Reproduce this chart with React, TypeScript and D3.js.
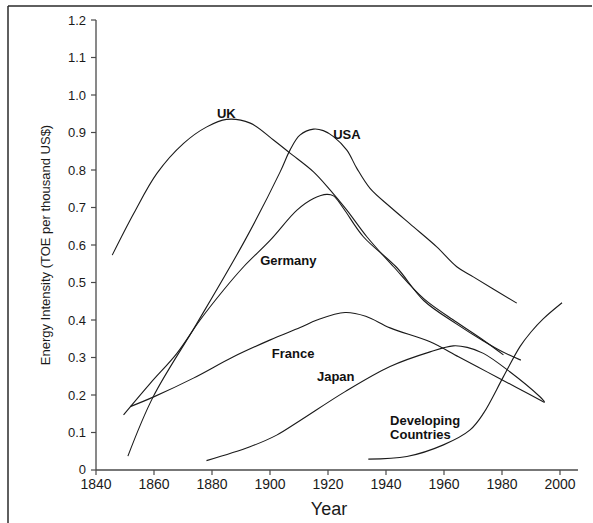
import React from "react";
import * as d3 from "d3";

// ---- data (year, energy intensity TOE per thousand US$) ----
const ukYears = [1845.6, 1853.0, 1861.0, 1870.2, 1878.2, 1885.0, 1893.2, 1901.2, 1906.9, 1915.0, 1920.7, 1926.5, 1933.4, 1942.6, 1953.0, 1964.4, 1973.6, 1980.5];
const ukValues = [0.573, 0.684, 0.791, 0.871, 0.915, 0.935, 0.925, 0.88, 0.845, 0.795, 0.747, 0.693, 0.622, 0.542, 0.457, 0.394, 0.346, 0.307];

const usaYears = [1851.0, 1859.7, 1874.8, 1891.4, 1903.5, 1906.9, 1910.3, 1915.0, 1918.4, 1921.9, 1926.5, 1929.9, 1934.5, 1941.4, 1949.4, 1957.5, 1964.4, 1970.1, 1985.1];
const usaValues = [0.037, 0.195, 0.391, 0.613, 0.795, 0.853, 0.893, 0.909, 0.905, 0.889, 0.853, 0.805, 0.751, 0.702, 0.649, 0.595, 0.542, 0.515, 0.445];

const germanyYears = [1849.5, 1858.7, 1867.9, 1875.9, 1884.0, 1890.9, 1900.1, 1909.3, 1915.0, 1919.6, 1921.9, 1925.3, 1932.2, 1943.7, 1953.0, 1964.4, 1973.6, 1980.0, 1986.5];
const germanyValues = [0.147, 0.231, 0.311, 0.4, 0.48, 0.542, 0.613, 0.693, 0.724, 0.735, 0.731, 0.698, 0.622, 0.54, 0.452, 0.389, 0.344, 0.316, 0.293];

const franceYears = [1851.8, 1859.9, 1873.6, 1887.4, 1900.1, 1910.4, 1916.2, 1925.9, 1933.0, 1941.4, 1955.2, 1965.0, 1975.0, 1985.0, 1994.7];
const franceValues = [0.169, 0.195, 0.245, 0.302, 0.347, 0.38, 0.4, 0.42, 0.41, 0.379, 0.342, 0.302, 0.261, 0.22, 0.18];

const japanYears = [1878.1, 1893.1, 1902.3, 1910.4, 1925.9, 1941.4, 1955.2, 1963.2, 1968.0, 1973.6, 1982.7, 1993.0, 1994.7];
const japanValues = [0.025, 0.062, 0.093, 0.132, 0.209, 0.276, 0.315, 0.331, 0.327, 0.311, 0.262, 0.196, 0.182];

const developingYears = [1933.9, 1947.2, 1959.8, 1969.0, 1973.6, 1980.5, 1986.2, 1990.0, 1994.2, 2000.7];
const developingValues = [0.029, 0.036, 0.067, 0.107, 0.151, 0.249, 0.329, 0.368, 0.403, 0.446];

const seriesNames = ["UK", "USA", "Germany", "France", "Japan", "Developing Countries"];

const xTickValues = [1840, 1860, 1880, 1900, 1920, 1940, 1960, 1980, 2000];
const yTickValues = [0, 0.1, 0.2, 0.3, 0.4, 0.5, 0.6, 0.7, 0.8, 0.9, 1.0, 1.1, 1.2];
const yTickLabels = ["0", "0.1", "0.2", "0.3", "0.4", "0.5", "0.6", "0.7", "0.8", "0.9", "1.0", "1.1", "1.2"];

// label anchors (year, value) for the curve labels
const labelTexts = ["UK", "USA", "Germany", "France", "Japan", "Developing", "Countries"];
const labelYears = [1881.7, 1921.8, 1896.6, 1900.6, 1916.2, 1941.4, 1941.4];
const labelValues = [0.939, 0.884, 0.547, 0.3, 0.238, 0.121, 0.082];

const xTitle = "Year";
const yTitle = "Energy Intensity (TOE per thousand US$)";

const W = 593;
const H = 523;

export default function App() {
  const x = d3.scaleLinear().domain([1840, 2000]).range([96, 560]);
  const y = d3.scaleLinear().domain([0, 1.2]).range([470, 20]);

  const series = [
    [ukYears, ukValues],
    [usaYears, usaValues],
    [germanyYears, germanyValues],
    [franceYears, franceValues],
    [japanYears, japanValues],
    [developingYears, developingValues],
  ];

  const line = d3
    .line<[number, number]>()
    .x((d) => x(d[0]))
    .y((d) => y(d[1]))
    .curve(d3.curveCatmullRom.alpha(0.5));

  const font = "'Liberation Sans', Arial, Helvetica, sans-serif";
  const axisColor = "#4a4a4a";
  const x0 = x(1840);
  const y0 = y(0);

  return (
    <svg
      width={W}
      height={H}
      viewBox={`0 0 ${W} ${H}`}
      style={{ position: "absolute", left: 0, top: 0, background: "#fff" }}
    >
      <rect x={0} y={0} width={W} height={H} fill="#fff" />
      {/* frame */}
      <line x1={8} y1={6} x2={592} y2={6} stroke="#2a2a2a" strokeWidth={1.5} />
      <line x1={8} y1={6} x2={8} y2={523} stroke="#2a2a2a" strokeWidth={1.5} />

      {/* y axis */}
      <line x1={x0} y1={y(1.2)} x2={x0} y2={y0} stroke={axisColor} strokeWidth={1.3} />
      {yTickValues.map((v, i) => (
        <g key={"yt" + i}>
          <line x1={x0 - 5} x2={x0} y1={y(v)} y2={y(v)} stroke={axisColor} strokeWidth={1.2} />
          <text
            x={x0 - 10}
            y={y(v)}
            dy={v === 0 ? "0.3em" : "0.36em"}
            textAnchor="end"
            fontFamily={font}
            fontSize={13}
            fill="#1a1a1a"
          >
            {yTickLabels[i]}
          </text>
        </g>
      ))}

      {/* x axis */}
      <line x1={x0} y1={y0} x2={x(2006.2)} y2={y0} stroke={axisColor} strokeWidth={1.3} />
      {xTickValues.map((v, i) => (
        <g key={"xt" + i}>
          <line x1={x(v)} x2={x(v)} y1={y0} y2={y0 + 5} stroke={axisColor} strokeWidth={1.2} />
          <text
            x={x(v)}
            y={y0 + 19}
            textAnchor="middle"
            fontFamily={font}
            fontSize={14}
            fill="#1a1a1a"
          >
            {v}
          </text>
        </g>
      ))}

      {/* axis titles */}
      <text
        x={329}
        y={515}
        textAnchor="middle"
        fontFamily={font}
        fontSize={18}
        fill="#1a1a1a"
      >
        {xTitle}
      </text>
      <text
        transform={`translate(50, ${y(0.6)}) rotate(-90)`}
        textAnchor="middle"
        fontFamily={font}
        fontSize={13}
        fill="#1a1a1a"
      >
        {yTitle}
      </text>

      {/* curves */}
      {series.map((s, i) => {
        const pts = (s[0] as number[]).map((yr, j) => [yr, (s[1] as number[])[j]] as [number, number]);
        return (
          <path
            key={seriesNames[i]}
            d={line(pts) || ""}
            fill="none"
            stroke="#1a1a1a"
            strokeWidth={1.1}
          />
        );
      })}

      {/* curve labels */}
      {labelTexts.map((t, i) => (
        <text
          key={"lb" + i}
          x={x(labelYears[i])}
          y={y(labelValues[i])}
          fontFamily={font}
          fontSize={13}
          fontWeight="bold"
          fill="#111"
        >
          {t}
        </text>
      ))}
    </svg>
  );
}
